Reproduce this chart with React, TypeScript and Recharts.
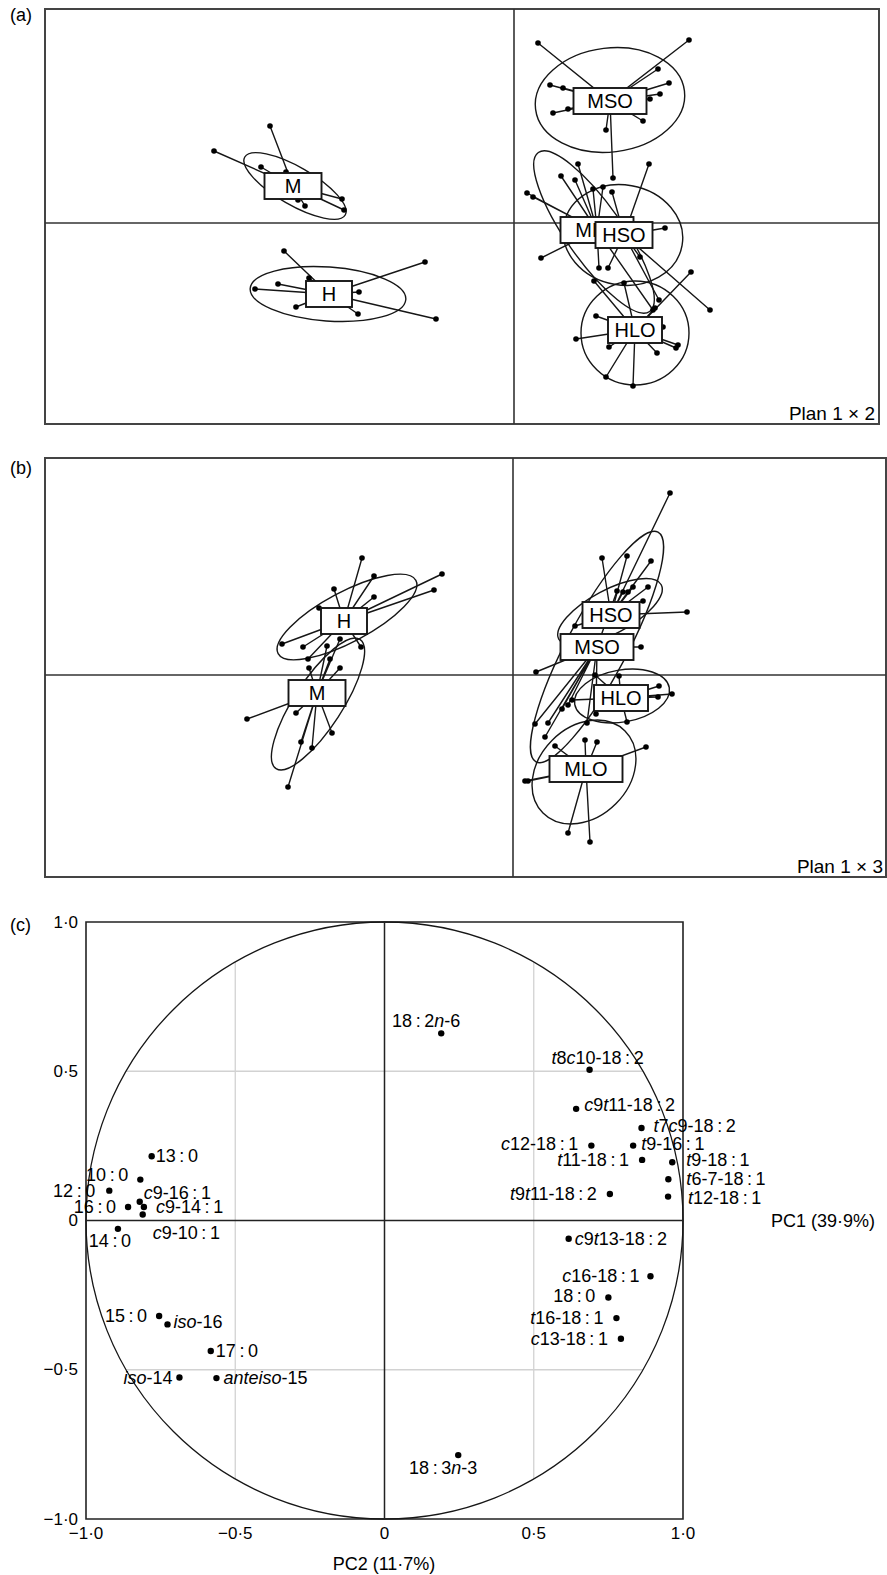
import React from "react";
import { ScatterChart, Scatter, XAxis, YAxis, ReferenceArea } from "recharts";

const FONT = '"Liberation Sans", Arial, Helvetica, sans-serif';

// ---- (a) Plan 1 x 2 : individual scores per diet group ----
const a_groups = ["M", "H", "MSO", "MLO", "HSO", "HLO"];
const a_M = [[-2.44, 0.97], [-3.0, 0.72], [-2.53, 0.56], [-2.28, 0.51], [-1.72, 0.24], [-1.7, 0.13], [-2.09, 0.17], [-2.16, 0.23]];
const a_H = [[-2.3, -0.28], [-2.05, -0.55], [-0.89, -0.39], [-2.59, -0.66], [-2.36, -0.61], [-1.55, -0.69], [-2.18, -0.84], [-1.56, -0.91], [-0.78, -0.96]];
const a_MSO = [[0.24, 1.8], [1.75, 1.83], [1.44, 1.54], [1.55, 1.4], [1.46, 1.29], [1.36, 1.24], [0.36, 1.38], [0.49, 1.35], [0.39, 1.1], [0.54, 1.14], [1.29, 1.02], [0.92, 0.93], [0.99, 0.45]];
const a_MLO = [[0.64, 0.59], [0.47, 0.47], [0.61, 0.43], [0.79, 0.34], [0.13, 0.3], [0.19, 0.26], [0.27, -0.35], [0.85, -0.45], [1.39, -0.87], [0.89, 0.36]];
const a_HSO = [[1.35, 0.59], [0.98, 0.31], [1.51, -0.05], [1.26, -0.34], [1.96, -0.87], [0.94, -0.45], [1.45, -0.77]];
const a_HLO = [[1.77, -0.49], [1.1, -0.6], [0.8, -0.58], [0.82, -0.93], [1.49, -1.04], [0.62, -1.16], [0.95, -1.24], [1.43, -1.3], [1.64, -1.22], [1.62, -1.25], [0.92, -1.54], [1.19, -1.63], [1.41, -0.85]];
const a_centres = [[-2.21, 0.37], [-1.85, -0.71], [0.96, 1.22], [0.83, -0.07], [1.1, -0.12], [1.21, -1.07]];
// centre x, centre y, half axis 1, half axis 2, angle (deg)
const a_ellipses = [[-2.19, 0.37, 0.58, 0.19, -30], [-1.86, -0.71, 0.78, 0.27, -4], [0.96, 1.23, 0.75, 0.52, 7], [0.8, -0.09, 0.97, 0.28, -55], [1.09, -0.12, 0.6, 0.5, -10], [1.21, -1.1, 0.54, 0.52, 0]];

// ---- (b) Plan 1 x 3 ----
const b_groups = ["M", "H", "MLO", "HLO", "MSO", "HSO"];
const b_M = [[-2.66, -0.44], [-2.17, -0.38], [-1.81, -0.58], [-2.12, -0.67], [-2.01, -0.73], [-2.25, -1.12], [-2.04, 0.07], [-1.73, 0.07], [-1.83, 0.16], [-1.86, 0.29], [-1.73, 0.36]];
const b_H = [[-1.51, 1.17], [-1.39, 0.99], [-0.71, 1.01], [-0.79, 0.85], [-1.79, 0.86], [-1.39, 0.78], [-1.94, 0.67], [-2.31, 0.31], [-1.52, 0.28], [-2.1, 0.28], [-2.05, 0.16]];
const b_MLO = [[0.12, -1.06], [0.15, -1.06], [0.72, -0.65], [0.84, -0.67], [1.33, -0.72], [0.55, -1.58], [0.77, -1.67], [0.42, -0.71]];
const b_HLO = [[1.46, -0.11], [1.59, -0.19], [1.45, -0.22], [0.82, 0.0], [1.06, -0.01], [0.59, -0.25], [1.14, -0.47]];
const b_MSO = [[1.28, 0.28], [0.23, 0.03], [0.55, -0.3], [0.49, -0.34], [0.35, -0.48], [0.22, -0.49], [0.32, -0.62], [1.04, 0.84], [0.74, -0.48], [0.83, -0.39]];
const b_HSO = [[1.57, 1.82], [0.89, 1.17], [1.14, 1.19], [1.38, 1.14], [1.74, 0.63], [1.35, 0.88], [1.2, 0.88], [1.15, 0.83], [1.1, 0.83], [1.3, 0.74], [0.62, 0.49]];
const b_centres = [[-1.96, -0.18], [-1.69, 0.54], [0.73, -0.94], [1.08, -0.23], [0.84, 0.28], [0.98, 0.6]];
const b_ellipses = [[-1.95, -0.29, 0.77, 0.24, 57], [-1.66, 0.58, 0.78, 0.25, 28], [0.71, -0.97, 0.58, 0.45, 45], [1.09, -0.21, 0.48, 0.26, 10], [0.84, 0.28, 1.3, 0.3, 62], [0.97, 0.63, 0.58, 0.22, 28]];

// ---- (c) correlation circle of the fatty acids ----
const acidNames = ["13:0", "10:0", "12:0", "_c_9-16:1", "16:0", "_c_9-14:1", "_c_9-10:1", "14:0", "15:0", "_iso_-16", "17:0", "_iso_-14", "_anteiso_-15", "18:2_n_-6", "18:3_n_-3", "_t_8_c_10-18:2", "_c_9_t_11-18:2", "_t_7_c_9-18:2", "_c_12-18:1", "_t_9-16:1", "_t_11-18:1", "_t_9-18:1", "_t_6-7-18:1", "_t_12-18:1", "_t_9_t_11-18:2", "_c_9_t_13-18:2", "_c_16-18:1", "18:0", "_t_16-18:1", "_c_13-18:1"];
const loadingX = [-0.78, -0.818, -0.922, -0.82, -0.859, -0.806, -0.81, -0.893, -0.755, -0.727, -0.582, -0.687, -0.563, 0.19, 0.247, 0.687, 0.642, 0.861, 0.693, 0.833, 0.863, 0.964, 0.951, 0.95, 0.755, 0.617, 0.891, 0.75, 0.777, 0.792];
const loadingY = [0.215, 0.137, 0.1, 0.063, 0.045, 0.045, 0.02, -0.028, -0.32, -0.348, -0.437, -0.526, -0.528, 0.627, -0.786, 0.505, 0.374, 0.31, 0.251, 0.251, 0.203, 0.195, 0.138, 0.08, 0.089, -0.061, -0.187, -0.258, -0.327, -0.396];
const ticksC = [-1, -0.5, 0, 0.5, 1];

// label placement next to each dot: anchor, dx, dy (px)
const labelSpot: [string, number, number][] = [
  ["start", 4, 0], ["end", -12, -5], ["end", -14, 0], ["start", 4, -9], ["end", -12, 0],
  ["start", 12, 0], ["start", 10, 18], ["middle", -8, 12], ["end", -12, 0], ["start", 6, -2],
  ["start", 5, 0], ["end", -7, 0], ["start", 7, 0], ["middle", -15, -12], ["middle", -15, 13],
  ["middle", 8, -12], ["start", 8, -4], ["start", 12, -2], ["end", -13, -2], ["start", 8, -2],
  ["end", -13, 0], ["start", 14, -2], ["start", 18, 0], ["start", 20, 1], ["end", -13, 0],
  ["start", 6, 0], ["end", -11, 0], ["end", -13, -2], ["end", -13, 0], ["end", -13, 0],
];

const BOX_W: Record<string, number> = { M: 57, H: 46, MSO: 73, MLO: 73, HSO: 57, HLO: 54 };
const BOX_H = 26;
const INK = "#161616";

const noMark = () => <g />;

function fmtTick(v: number) {
  if (v === 0) return "0";
  return (v < 0 ? "\u2212" : "") + Math.abs(v).toFixed(1).replace(".", "\u00b7");
}

function richLabel(s: string) {
  return s.split("_").map((part, i) => (
    <tspan key={i} fontStyle={i % 2 ? "italic" : "normal"}>
      {part.replace(/:/g, "\u2009:\u2009")}
    </tspan>
  ));
}

function StarPanel({ width, height, margin, xDomain, yDomain, groups, points, centres, ellipses }: any) {
  const ppu = (width - margin.left - margin.right) / (xDomain[1] - xDomain[0]);
  const axisH = [{ x: xDomain[0], y: 0 }, { x: xDomain[1], y: 0 }];
  const axisV = [{ x: 0, y: yDomain[0] }, { x: 0, y: yDomain[1] }];
  const ell = ellipses.map(([x, y, a, b, angle]: number[]) => ({ x, y, a, b, angle }));
  const dots = points.flat().map(([x, y]: number[]) => ({ x, y }));
  const boxes = groups.map((g: string, i: number) => ({ x: centres[i][0], y: centres[i][1], g }));

  return (
    <ScatterChart width={width} height={height} margin={margin}>
      <XAxis type="number" dataKey="x" domain={xDomain} hide />
      <YAxis type="number" dataKey="y" domain={yDomain} hide />
      <Scatter data={axisH} line={{ stroke: "#333", strokeWidth: 1.6 }} shape={noMark} isAnimationActive={false} />
      <Scatter data={axisV} line={{ stroke: "#333", strokeWidth: 1.6 }} shape={noMark} isAnimationActive={false} />
      <Scatter
        data={ell}
        isAnimationActive={false}
        shape={(p: any) => (
          <ellipse
            cx={p.cx}
            cy={p.cy}
            rx={p.payload.a * ppu}
            ry={p.payload.b * ppu}
            transform={`rotate(${-p.payload.angle} ${p.cx} ${p.cy})`}
            fill="none"
            stroke={INK}
            strokeWidth={1.4}
          />
        )}
      />
      {groups.map((g: string, i: number) => (
        <Scatter
          key={g}
          data={points[i].flatMap(([x, y]: number[]) => [{ x: centres[i][0], y: centres[i][1] }, { x, y }])}
          line={{ stroke: INK, strokeWidth: 1.4 }}
          shape={noMark}
          isAnimationActive={false}
        />
      ))}
      <Scatter data={dots} isAnimationActive={false} shape={(p: any) => <circle cx={p.cx} cy={p.cy} r={2.8} fill="#000" />} />
      <Scatter
        data={boxes}
        isAnimationActive={false}
        shape={(p: any) => {
          const w = BOX_W[p.payload.g];
          return (
            <g>
              <rect x={p.cx - w / 2} y={p.cy - BOX_H / 2} width={w} height={BOX_H} fill="#fff" stroke={INK} strokeWidth={1.9} />
              <text x={p.cx} y={p.cy} textAnchor="middle" dominantBaseline="central" fontSize={20} fontFamily={FONT} fill="#000">
                {p.payload.g}
              </text>
            </g>
          );
        }}
      />
      <ReferenceArea x1={xDomain[0]} x2={xDomain[1]} y1={yDomain[0]} y2={yDomain[1]} fill="none" fillOpacity={0} stroke="#444" strokeWidth={2} />
    </ScatterChart>
  );
}

function CirclePanel() {
  const half = Math.sqrt(1 - 0.5 * 0.5);
  const ppu = (887 - 86 - 204) / 2;
  const grid = [
    [{ x: -0.5, y: -half }, { x: -0.5, y: half }],
    [{ x: 0.5, y: -half }, { x: 0.5, y: half }],
    [{ x: -half, y: 0.5 }, { x: half, y: 0.5 }],
    [{ x: -half, y: -0.5 }, { x: half, y: -0.5 }],
  ];
  const acids = loadingX.map((x, i) => ({ x, y: loadingY[i], name: acidNames[i], spot: labelSpot[i] }));

  return (
    <ScatterChart width={887} height={695} margin={{ top: 42, right: 204, bottom: 16, left: 36 }}>
      <XAxis
        type="number"
        dataKey="x"
        domain={[-1, 1]}
        ticks={ticksC}
        interval={0}
        axisLine={false}
        tickLine={false}
        height={40}
        tick={(p: any) => (
          <text x={p.x} y={p.y} dy="0.71em" textAnchor="middle" fontSize={17} fontFamily={FONT} fill="#000">
            {fmtTick(p.payload.value)}
          </text>
        )}
      />
      <YAxis
        type="number"
        dataKey="y"
        domain={[-1, 1]}
        ticks={ticksC}
        interval={0}
        axisLine={false}
        tickLine={false}
        width={50}
        tick={(p: any) => (
          <text x={p.x} y={p.y} textAnchor="end" dominantBaseline="central" fontSize={17} fontFamily={FONT} fill="#000">
            {fmtTick(p.payload.value)}
          </text>
        )}
      />
      {grid.map((seg, i) => (
        <Scatter key={i} data={seg} line={{ stroke: "#d2d2d2", strokeWidth: 1.3 }} shape={noMark} isAnimationActive={false} />
      ))}
      <Scatter
        data={[{ x: 0, y: 0 }]}
        isAnimationActive={false}
        shape={(p: any) => <circle cx={p.cx} cy={p.cy} r={ppu} fill="none" stroke={INK} strokeWidth={1.3} />}
      />
      <Scatter data={[{ x: -1, y: 0 }, { x: 1, y: 0 }]} line={{ stroke: "#222", strokeWidth: 1.5 }} shape={noMark} isAnimationActive={false} />
      <Scatter data={[{ x: 0, y: -1 }, { x: 0, y: 1 }]} line={{ stroke: "#222", strokeWidth: 1.5 }} shape={noMark} isAnimationActive={false} />
      <ReferenceArea x1={-1} x2={1} y1={-1} y2={1} fill="none" fillOpacity={0} stroke="#222" strokeWidth={1.6} />
      <Scatter
        data={acids}
        isAnimationActive={false}
        shape={(p: any) => {
          const [anchor, dx, dy] = p.payload.spot;
          return (
            <g>
              <circle cx={p.cx} cy={p.cy} r={3.2} fill="#000" />
              <text
                x={p.cx + dx}
                y={p.cy + dy}
                textAnchor={anchor}
                dominantBaseline="central"
                fontSize={18}
                fontFamily={FONT}
                fill="#000"
              >
                {richLabel(p.payload.name)}
              </text>
            </g>
          );
        }}
      />
    </ScatterChart>
  );
}

export default function App() {
  const txt = { fontFamily: FONT, fill: "#000" } as const;
  return (
    <div style={{ position: "relative", width: 887, height: 1575, background: "#fff" }}>
      <style>{"body{margin:0;background:#fff}"}</style>
      <div style={{ position: "absolute", left: 0, top: 0 }}>
        <StarPanel
          width={887}
          height={440}
          margin={{ top: 9, right: 8, bottom: 16, left: 45 }}
          xDomain={[-4.69, 3.65]}
          yDomain={[-2.01, 2.14]}
          groups={a_groups}
          points={[a_M, a_H, a_MSO, a_MLO, a_HSO, a_HLO]}
          centres={a_centres}
          ellipses={a_ellipses}
        />
      </div>
      <div style={{ position: "absolute", left: 0, top: 440 }}>
        <StarPanel
          width={887}
          height={440}
          margin={{ top: 18, right: 1, bottom: 3, left: 45 }}
          xDomain={[-4.68, 3.73]}
          yDomain={[-2.02, 2.17]}
          groups={b_groups}
          points={[b_M, b_H, b_MLO, b_HLO, b_MSO, b_HSO]}
          centres={b_centres}
          ellipses={b_ellipses}
        />
      </div>
      <div style={{ position: "absolute", left: 0, top: 880 }}>
        <CirclePanel />
      </div>
      <svg width={887} height={1575} style={{ position: "absolute", left: 0, top: 0, pointerEvents: "none" }}>
        <text x={10} y={15} dominantBaseline="central" fontSize={18} {...txt}>(a)</text>
        <text x={10} y={468} dominantBaseline="central" fontSize={18} {...txt}>(b)</text>
        <text x={10} y={925} dominantBaseline="central" fontSize={18} {...txt}>(c)</text>
        <text x={875} y={413} textAnchor="end" dominantBaseline="central" fontSize={19} {...txt}>Plan 1 × 2</text>
        <text x={883} y={866} textAnchor="end" dominantBaseline="central" fontSize={19} {...txt}>Plan 1 × 3</text>
        <text x={771} y={1221} dominantBaseline="central" fontSize={18} {...txt}>PC1 (39·9%)</text>
        <text x={384} y={1564} textAnchor="middle" dominantBaseline="central" fontSize={18} {...txt}>PC2 (11·7%)</text>
      </svg>
    </div>
  );
}
